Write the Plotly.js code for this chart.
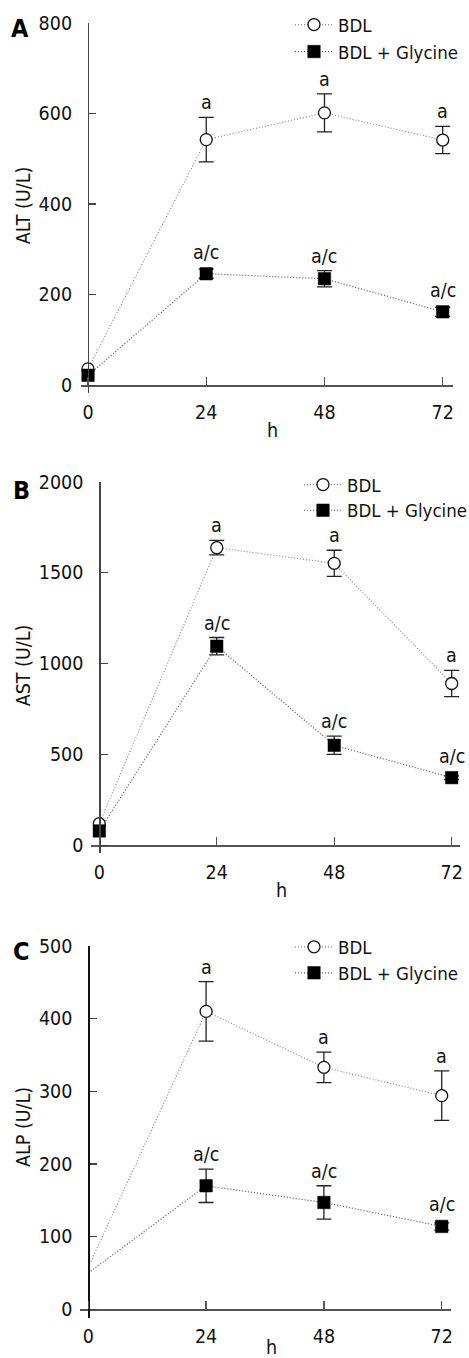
<!DOCTYPE html>
<html>
<head>
<meta charset="utf-8">
<script src="https://cdn.plot.ly/plotly-3.0.1.min.js"></script>
<style>html,body{margin:0;padding:0;background:#fff;}#chart{width:469px;height:1358px;}</style>
</head>
<body>
<div id="chart"></div>
<script>
// ---------- data ----------
const hours = [0, 24, 48, 72];
const hourLabels = ['0', '24', '48', '72'];
const seriesNames = ['BDL', 'BDL + Glycine'];

const altBDL = [36, 542, 601, 541];
const altBDLErr = [NaN, 49, 42, 30];
const altGly = [22, 246, 235, 162];
const altGlyErr = [NaN, 10, 18, 10];

const astBDL = [119, 1637, 1551, 890];
const astBDLErr = [NaN, 40, 72, 72];
const astGly = [79, 1095, 550, 372];
const astGlyErr = [NaN, 48, 50, 10];

const alpBDL = [58, 410, 333, 294];
const alpBDLErr = [NaN, 41, 21, 34];
const alpGly = [50, 170, 147, 114];
const alpGlyErr = [NaN, 23, 23, 5];

const bdlSig = ['', 'a', 'a', 'a'];
const glySig = ['', 'a/c', 'a/c', 'a/c'];

const altTicks = [0, 200, 400, 600, 800];
const astTicks = [0, 500, 1000, 1500, 2000];
const alpTicks = [0, 100, 200, 300, 400, 500];

const panelLetters = ['A', 'B', 'C'];
const yTitles = ['ALT (U/L)', 'AST (U/L)', 'ALP (U/L)'];
const xTitle = 'h';

// ---------- layout helpers ----------
const W = 469, H = 1358;
const FONT = '"DejaVu Sans Condensed", "DejaVu Sans", "Liberation Sans", sans-serif';
const FS = 19.5;
const LFS = 18.5;
const px2x = p => p / W;
const py2y = p => 1 - p / H;

// plot-area boxes in pixels: [left, right, top, bottom]
const panels = [
  {box: [81, 453.3, 22.7, 393], xr: [-1.42, 74.15], yr: [-17.2, 800], ticks: altTicks,
   bdl: altBDL, bdlE: altBDLErr, gly: altGly, glyE: altGlyErr, hideFirst: false,
   legendX: 290, legendRows: [25, 52], letter: [20, 28], ytitle: [23.3, 205], xtitle: [272, 430]},
  {box: [90.7, 460, 481.7, 853.3], xr: [-1.76, 73.70], yr: [-44, 2000], ticks: astTicks,
   bdl: astBDL, bdlE: astBDLErr, gly: astGly, glyE: astGlyErr, hideFirst: false,
   legendX: 299, legendRows: [485, 510.7], letter: [21.7, 490], ytitle: [23.3, 665], xtitle: [281.7, 890]},
  {box: [80, 450.7, 946, 1318], xr: [-1.69, 73.83], yr: [-12, 500], ticks: alpTicks,
   bdl: alpBDL, bdlE: alpBDLErr, gly: alpGly, glyE: alpGlyErr, hideFirst: true,
   legendX: 290, legendRows: [947.3, 973.3], letter: [21, 951.7], ytitle: [23.3, 1126.7], xtitle: [271.7, 1347]}
];

const traces = [];
const layout = {
  width: W, height: H,
  margin: {l: 0, r: 0, t: 0, b: 0, autoexpand: false},
  paper_bgcolor: '#fff', plot_bgcolor: 'rgba(0,0,0,0)',
  font: {family: FONT, size: FS, color: '#111'},
  showlegend: true,
  annotations: []
};

panels.forEach((p, i) => {
  const n = i === 0 ? '' : String(i + 1);
  const xa = 'xaxis' + n, ya = 'yaxis' + n;
  const xref = 'x' + n, yref = 'y' + n;
  const [L, R, T, B] = p.box;
  const xDom = [px2x(L), px2x(R)];
  const yDom = [py2y(B), py2y(T)];
  // paper positions of the value-zero crossing
  const x0Paper = xDom[0] + (0 - p.xr[0]) / (p.xr[1] - p.xr[0]) * (xDom[1] - xDom[0]);
  const y0Paper = yDom[0] + (0 - p.yr[0]) / (p.yr[1] - p.yr[0]) * (yDom[1] - yDom[0]);

  layout[xa] = {
    domain: xDom, range: p.xr, anchor: 'free', position: y0Paper,
    showline: true, linecolor: '#555', linewidth: 1.3,
    ticks: 'inside', ticklen: 8, tickwidth: 1.3, tickcolor: '#555',
    tickmode: 'array', tickvals: hours, ticktext: hourLabels,
    ticklabelstandoff: 9,
    showgrid: false, zeroline: false, fixedrange: true, automargin: false,
    tickfont: {family: FONT, size: FS, color: '#111'}
  };
  layout[ya] = {
    domain: yDom, range: p.yr, anchor: 'free', position: x0Paper,
    showline: true, linecolor: i === 2 ? '#111' : '#444', linewidth: 1.3,
    ticks: 'inside', ticklen: 7, tickwidth: 1.3, tickcolor: '#444',
    tickmode: 'array', tickvals: p.ticks,
    ticklabelstandoff: 12,
    showgrid: false, zeroline: false, fixedrange: true, automargin: false,
    tickfont: {family: FONT, size: FS, color: '#111'}
  };

  // one single-item legend per series, so each row can be placed exactly
  const legNames = [0, 1].map(s => {
    const idx = 2 * i + s + 1;
    const name = idx === 1 ? 'legend' : 'legend' + idx;
    layout[name] = {
      x: px2x(p.legendX), y: py2y(p.legendRows[s]), xanchor: 'left', yanchor: 'middle',
      bgcolor: 'rgba(0,0,0,0)', borderwidth: 0,
      font: {family: FONT, size: LFS, color: '#111'},
      itemwidth: 38
    };
    return name;
  });

  // in panel C the 0 h points carry no marker (line only)
  const shown = p.hideFirst ? hours.map((h, k) => k).slice(1) : null;
  const hideOpts = p.hideFirst
    ? {selectedpoints: shown, selected: {marker: {opacity: 1}}, unselected: {marker: {opacity: 0}}}
    : {};

  traces.push(Object.assign({
    type: 'scatter', mode: 'lines+markers', name: seriesNames[0],
    x: hours, y: p.bdl, xaxis: xref, yaxis: yref, legend: legNames[0],
    line: {color: '#888', width: 1.2, dash: '1px,2px'},
    marker: {symbol: 'circle', size: 12, color: '#fff', line: {color: '#111', width: 1.3}},
    error_y: {type: 'data', array: p.bdlE, visible: true, color: '#222', thickness: 1.3, width: 7.5},
    cliponaxis: false
  }, hideOpts));
  traces.push(Object.assign({
    type: 'scatter', mode: 'lines+markers', name: seriesNames[1],
    x: hours, y: p.gly, xaxis: xref, yaxis: yref, legend: legNames[1],
    line: {color: '#555', width: 1.2, dash: '1px,2px'},
    marker: {symbol: 'square', size: 12.5, color: '#000', line: {color: '#000', width: 0.5}},
    error_y: {type: 'data', array: p.glyE, visible: true, color: '#222', thickness: 1.3, width: 7.5},
    cliponaxis: false
  }, hideOpts));

  // significance labels, placed above error bar / marker through the axis scale
  const pxPerUnit = (B - T) / (p.yr[1] - p.yr[0]);
  const addSig = (vals, errs, labels) => {
    vals.forEach((v, k) => {
      if (!labels[k]) return;
      const e = isNaN(errs[k]) ? 0 : errs[k];
      const errPx = e * pxPerUnit;
      layout.annotations.push({
        xref: xref, yref: yref, x: hours[k], y: v, text: labels[k],
        showarrow: false, xanchor: 'center', yanchor: 'bottom',
        yshift: Math.max(errPx, 7) + 1,
        font: {family: FONT, size: FS, color: '#111'}
      });
    });
  };
  addSig(p.bdl, p.bdlE, bdlSig);
  addSig(p.gly, p.glyE, glySig);

  // panel letter
  layout.annotations.push({
    xref: 'paper', yref: 'paper', x: px2x(p.letter[0]), y: py2y(p.letter[1]),
    xanchor: 'center', yanchor: 'middle', showarrow: false,
    text: '<b>' + panelLetters[i] + '</b>',
    font: {family: FONT, size: 25, color: '#000'}
  });
  // y title
  layout.annotations.push({
    xref: 'paper', yref: 'paper', x: px2x(p.ytitle[0]), y: py2y(p.ytitle[1]),
    xanchor: 'center', yanchor: 'middle', showarrow: false, textangle: -90,
    text: yTitles[i], font: {family: FONT, size: FS, color: '#111'}
  });
  // x title
  layout.annotations.push({
    xref: 'paper', yref: 'paper', x: px2x(p.xtitle[0]), y: py2y(p.xtitle[1]),
    xanchor: 'center', yanchor: 'middle', showarrow: false,
    text: xTitle, font: {family: FONT, size: FS, color: '#111'}
  });
});

Plotly.newPlot('chart', traces, layout, {displayModeBar: false, staticPlot: true});
</script>
</body>
</html>
